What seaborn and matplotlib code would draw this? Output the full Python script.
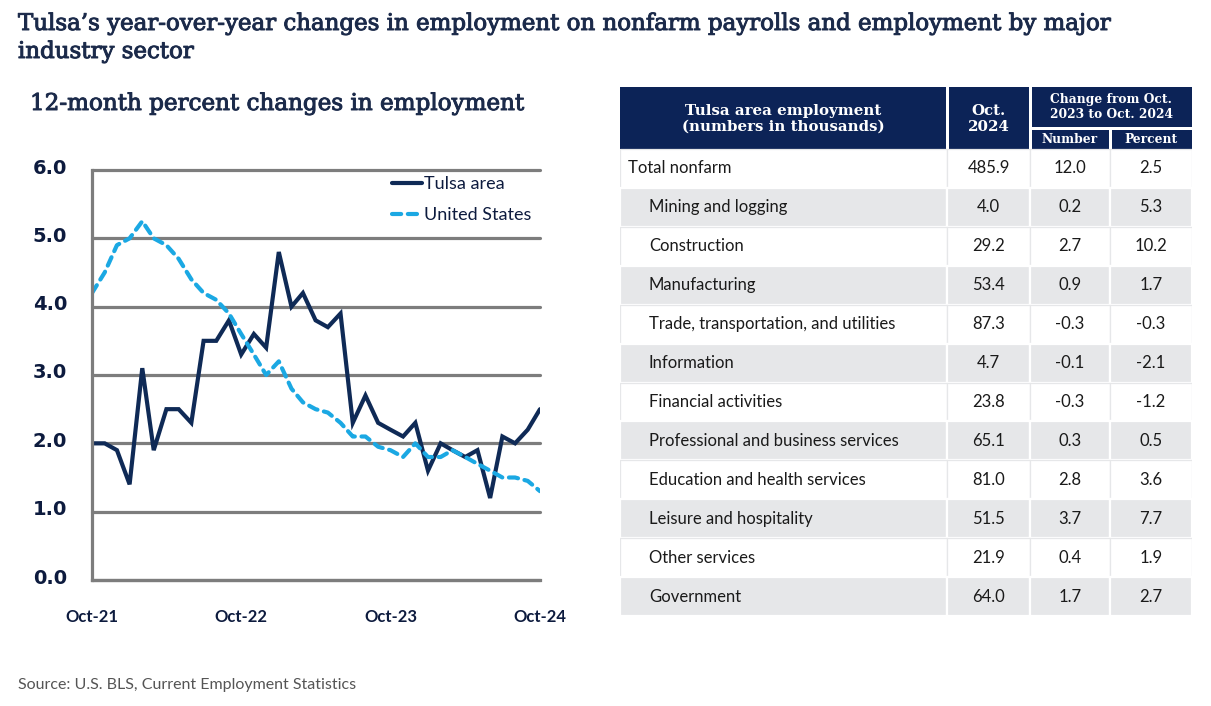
import numpy as np
import pandas as pd
import matplotlib
matplotlib.use("Agg")
import matplotlib.pyplot as plt
import matplotlib.transforms as mtransforms
import matplotlib.patheffects as pe
import seaborn as sns
from matplotlib.patches import Rectangle

# ---------------- data ----------------
months = pd.date_range("2021-10-01", periods=37, freq="MS")
tulsa = [2.0, 2.0, 1.9, 1.4, 3.1, 1.9, 2.5, 2.5, 2.3, 3.5, 3.5, 3.8, 3.3, 3.6, 3.4,
         4.8, 4.0, 4.2, 3.8, 3.7, 3.9, 2.3, 2.7, 2.3, 2.2, 2.1, 2.3, 1.6, 2.0, 1.9,
         1.8, 1.9, 1.2, 2.1, 2.0, 2.2, 2.5]
us = [4.2, 4.5, 4.9, 5.0, 5.25, 5.0, 4.9, 4.7, 4.4, 4.2, 4.1, 3.9, 3.6, 3.3, 3.0,
      3.2, 2.8, 2.6, 2.5, 2.45, 2.3, 2.1, 2.1, 1.95, 1.9, 1.8, 2.0, 1.8, 1.8, 1.9,
      1.8, 1.7, 1.6, 1.5, 1.5, 1.45, 1.3]
series_names = ["Tulsa area", "United States"]
x_tick_idx = [0, 12, 24, 36]
x_tick_labels = ["Oct-21", "Oct-22", "Oct-23", "Oct-24"]
y_ticks = [0, 1, 2, 3, 4, 5, 6]

sectors = ["Total nonfarm", "Mining and logging", "Construction", "Manufacturing",
           "Trade, transportation, and utilities", "Information", "Financial activities",
           "Professional and business services", "Education and health services",
           "Leisure and hospitality", "Other services", "Government"]
oct2024 = [485.9, 4.0, 29.2, 53.4, 87.3, 4.7, 23.8, 65.1, 81.0, 51.5, 21.9, 64.0]
chg_num = [12.0, 0.2, 2.7, 0.9, -0.3, -0.1, -0.3, 0.3, 2.8, 3.7, 0.4, 1.7]
chg_pct = [2.5, 5.3, 10.2, 1.7, -0.3, -2.1, -1.2, 0.5, 3.6, 7.7, 1.9, 2.7]

# ---------------- style ----------------
sns.set_theme(style="white")
plt.rcParams['font.family'] = ['Lato', 'DejaVu Sans']
NAVY = "#0f2a56"
TXT_NAVY = "#0d1b3e"
LBLUE = "#1ba8e3"
GRAY = "#7d7d7d"
HDR = "#0c2357"
ROWGRAY = "#e6e7e9"
SERIF = ['DejaVu Serif']
TITLE_C = "#1b2a4a"
heavy = [pe.withStroke(linewidth=0.7, foreground=TITLE_C)]

W, H = 1211, 706
fig = plt.figure(figsize=(W / 100, H / 100), dpi=100)
fig.patch.set_facecolor("white")

def fx(px):
    return px / W

def fy(py):
    return 1 - py / H

fig.text(fx(18), fy(24), "Tulsa\u2019s year-over-year changes in employment on nonfarm payrolls and employment by major",
         family=SERIF, fontsize=16.5, color=TITLE_C, va="center", ha="left", path_effects=heavy)
fig.text(fx(18), fy(52), "industry sector",
         family=SERIF, fontsize=16.5, color=TITLE_C, va="center", ha="left", path_effects=heavy)
fig.text(fx(30), fy(104), "12-month percent changes in employment",
         family=SERIF, fontsize=16.6, color=TITLE_C, va="center", ha="left", path_effects=heavy)
fig.text(fx(18), fy(685), "Source: U.S. BLS, Current Employment Statistics",
         fontsize=11.5, color="#555555", va="center", ha="left")

# ---------------- line chart ----------------
ax = fig.add_axes([fx(92), fy(580), fx(540) - fx(92), fy(170) - fy(580)])
df = pd.DataFrame({"month": months, series_names[0]: tulsa, series_names[1]: us})
long = df.melt(id_vars="month", var_name="series", value_name="value")
sns.lineplot(data=long, x="month", y="value", hue="series", style="series",
             palette={series_names[0]: NAVY, series_names[1]: LBLUE},
             dashes={series_names[0]: "", series_names[1]: (2.2, 1.6)},
             linewidth=3, ax=ax, legend=True)
for ln in ax.get_lines():
    ln.set_solid_joinstyle("miter")
    ln.set_dash_capstyle("round")

ax.set_xlim(months[0], months[-1])
ax.set_ylim(0, 6)
ax.set_xlabel("")
ax.set_ylabel("")
ax.set_yticks(y_ticks)
ax.set_yticklabels([f"{v:.1f}" for v in y_ticks])
ax.set_xticks([months[i] for i in x_tick_idx])
ax.set_xticklabels(x_tick_labels)
ax.grid(axis="y", color=GRAY, linewidth=2.3)
ax.grid(axis="x", visible=False)
for gl in ax.get_ygridlines():
    gl.set_clip_on(False)
    gl.set_solid_capstyle("round")
ax.set_axisbelow(True)
for s in ["top", "right"]:
    ax.spines[s].set_visible(False)
for s in ["left", "bottom"]:
    ax.spines[s].set_color(GRAY)
    ax.spines[s].set_linewidth(2.3)
ax.tick_params(axis="x", direction="out", length=15, width=2.3, color=GRAY,
               pad=6, labelsize=12, labelcolor=TXT_NAVY)
ax.tick_params(axis="y", length=0, pad=18, labelsize=14, labelcolor=TXT_NAVY)
for lab in ax.get_xticklabels():
    lab.set_fontweight("bold")
shift = mtransforms.ScaledTranslation(0, 4 / 100, fig.dpi_scale_trans)
for lab in ax.get_yticklabels():
    lab.set_fontweight("bold")
    lab.set_family(["DejaVu Sans"])
    lab.set_transform(lab.get_transform() + shift)

h, l = ax.get_legend_handles_labels()
pairs = [(hh, ll) for hh, ll in zip(h, l) if ll in series_names]
leg = ax.legend([p[0] for p in pairs], [p[1] for p in pairs], loc="upper left",
                bbox_to_anchor=((392 - 92) / 448, (580 - 176) / 410),
                frameon=False, fontsize=13, handlelength=1.65, handletextpad=0.15,
                labelspacing=0.85, borderpad=0, borderaxespad=0)
for t in leg.get_texts():
    t.set_color(TXT_NAVY)

# ---------------- table ----------------
col_edges = [620, 947, 1030, 1110, 1192]
hdr_top, hdr_split, hdr_bot = 87, 128, 149
row_h = (616 - 149) / 12
tax = fig.add_axes([fx(620), fy(616), fx(1192) - fx(620), fy(87) - fy(616)])
tax.set_xlim(620, 1192)
tax.set_ylim(616, 87)
tax.axis("off")

# header
sep = 3
tax.add_patch(Rectangle((col_edges[0], hdr_top), col_edges[1] - col_edges[0] - sep / 2,
                        hdr_bot - hdr_top, color=HDR, lw=0))
tax.add_patch(Rectangle((col_edges[1] + sep / 2, hdr_top), col_edges[2] - col_edges[1] - sep,
                        hdr_bot - hdr_top, color=HDR, lw=0))
tax.add_patch(Rectangle((col_edges[2] + sep / 2, hdr_top), col_edges[4] - col_edges[2] - sep / 2,
                        hdr_split - hdr_top - 1, color=HDR, lw=0))
tax.add_patch(Rectangle((col_edges[2] + sep / 2, hdr_split + 1.5), col_edges[3] - col_edges[2] - sep,
                        hdr_bot - hdr_split - 1.5, color=HDR, lw=0))
tax.add_patch(Rectangle((col_edges[3] + sep / 2, hdr_split + 1.5), col_edges[4] - col_edges[3] - sep / 2,
                        hdr_bot - hdr_split - 1.5, color=HDR, lw=0))

hkw = dict(family=SERIF, color="white", fontweight="bold", ha="center", va="center")
tax.text((col_edges[0] + col_edges[1]) / 2, 119, "Tulsa area employment\n(numbers in thousands)",
         fontsize=10.8, linespacing=1.2, **hkw)
tax.text((col_edges[1] + col_edges[2]) / 2, 119, "Oct.\n2024", fontsize=10.8, linespacing=1.2, **hkw)
tax.text((col_edges[2] + col_edges[4]) / 2, 107, "Change from Oct.\n2023 to Oct. 2024",
         fontsize=8.8, linespacing=1.1, **hkw)
tax.text((col_edges[2] + col_edges[3]) / 2, 139.5, "Number", fontsize=8.8, **hkw)
tax.text((col_edges[3] + col_edges[4]) / 2, 139.5, "Percent", fontsize=8.8, **hkw)

# body
for r, name in enumerate(sectors):
    top = hdr_bot + r * row_h
    fill = ROWGRAY if r % 2 == 1 else "white"
    edge = "white" if r % 2 == 1 else ROWGRAY
    for c in range(4):
        tax.add_patch(Rectangle((col_edges[c], top), col_edges[c + 1] - col_edges[c], row_h,
                                facecolor=fill, edgecolor=edge, lw=1.6 if r % 2 == 1 else 0.9))
    yc = top + row_h / 2
    xl = 628 if r == 0 else 649
    tax.text(xl, yc, name, fontsize=12, color="#1a1a1a", ha="left", va="center")
    vals = [oct2024[r], chg_num[r], chg_pct[r]]
    for c, v in enumerate(vals):
        tax.text((col_edges[c + 1] + col_edges[c + 2]) / 2, yc, f"{v:.1f}", fontsize=12,
                 color="#1a1a1a", ha="center", va="center")

fig.savefig("out.png", dpi=100, facecolor="white")
